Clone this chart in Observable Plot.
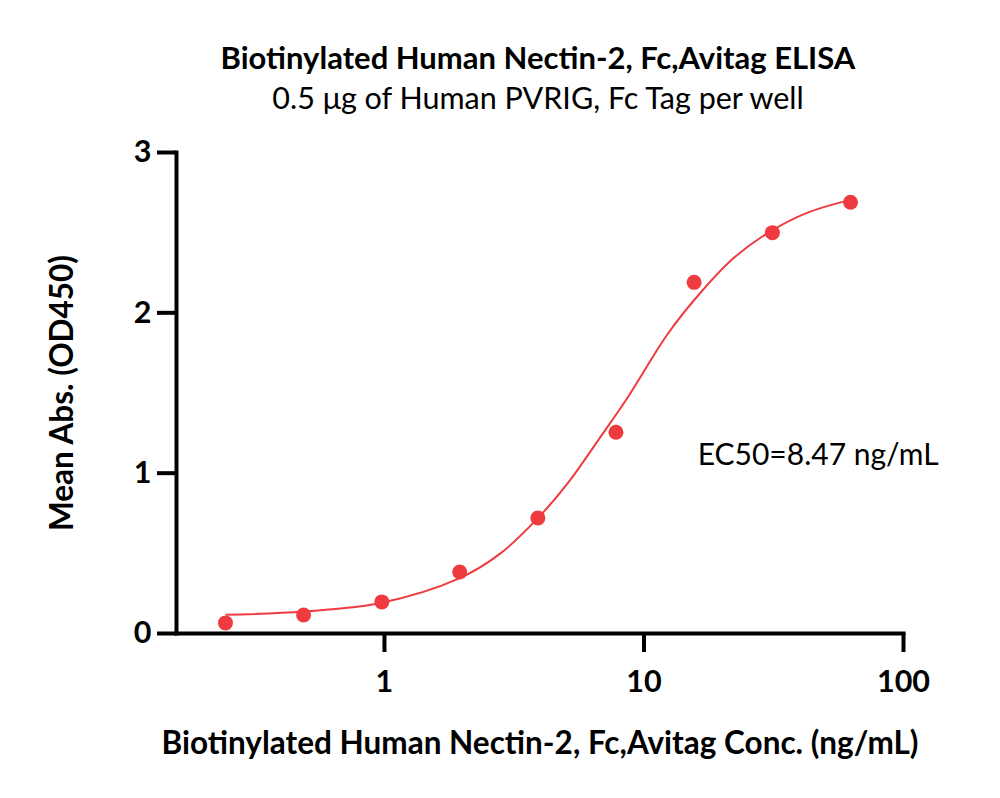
<!DOCTYPE html>
<html><head><meta charset="utf-8">
<script src="https://cdn.jsdelivr.net/npm/d3@7"></script>
<script src="https://cdn.jsdelivr.net/npm/@observablehq/plot@0.6"></script>
<style>
body{margin:0;background:#fff;font-family:Lato, sans-serif;}
#wrap{position:relative;width:1000px;height:798px;overflow:hidden;}
#title{position:absolute;left:0;width:1076px;top:39px;text-align:center;font-weight:bold;font-size:31px;line-height:36px;color:#000;}
#subtitle{position:absolute;left:0;width:1076px;top:79px;text-align:center;font-size:30.5px;line-height:36px;color:#000;}
#chart{position:absolute;left:0;top:120px;}
</style></head><body>
<div id="wrap">
<div id="title">Biotinylated Human Nectin-2, Fc,Avitag ELISA</div>
<div id="subtitle">0.5 μg of Human PVRIG, Fc Tag per well</div>
<div id="chart"></div>
</div>
<script>
// measured points (ng/mL, OD450)
const concentrations = [0.244, 0.488, 0.977, 1.95, 3.9, 7.8, 15.6, 31.25, 62.5];
const meanAbs = [0.066, 0.115, 0.197, 0.384, 0.72, 1.255, 2.19, 2.50, 2.69];
// fitted curve
const fitConc = [0.246, 0.488, 0.965, 1.93, 2.8, 3.85, 5.07, 6.79, 8.64, 12.3, 16.1, 22.1, 30.5, 42.7, 60.8];
const fitAbs  = [0.117, 0.137, 0.19, 0.342, 0.50, 0.71, 0.935, 1.225, 1.47, 1.865, 2.105, 2.34, 2.505, 2.625, 2.70];
const xTicks = [1, 10, 100];
const yTicks = [0, 1, 2, 3];
const xDomain = [0.158, 100];
const yDomain = [0, 3];
const titleX = "Biotinylated Human Nectin-2, Fc,Avitag Conc. (ng/mL)";
const titleY = "Mean Abs. (OD450)";
const ec50Label = [{conc: 16.1, abs: 1.108, text: "EC50=8.47 ng/mL"}];

const points = concentrations.map((c, i) => ({conc: c, abs: meanAbs[i]}));
const fit = fitConc.map((c, i) => ({conc: c, abs: fitAbs[i]}));
const red = "#EF3B3F";

const chart = Plot.plot({
  width: 1000, height: 678,
  marginTop: 32, marginBottom: 165, marginLeft: 176, marginRight: 97,
  style: {fontFamily: "Lato, sans-serif", color: "#000", background: "#fff", overflow: "visible"},
  x: {type: "log", domain: xDomain},
  y: {domain: yDomain},
  marks: [
    Plot.axisX(xTicks, {tickSize: 19, strokeWidth: 4, tickPadding: 18, fontSize: 30.5, fontWeight: "bold", tickFormat: d => String(d), label: null}),
    Plot.axisY(yTicks, {tickSize: 19, strokeWidth: 4, tickPadding: 6, fontSize: 30.5, fontWeight: "bold", tickFormat: d => String(d), label: null}),
    Plot.frame({anchor: "left", strokeWidth: 4, strokeLinecap: "square"}),
    Plot.frame({anchor: "bottom", strokeWidth: 4, strokeLinecap: "square"}),
    Plot.line(fit, {x: "conc", y: "abs", stroke: red, strokeWidth: 2, curve: "catmull-rom"}),
    Plot.dot(points, {x: "conc", y: "abs", r: 7.5, fill: red}),
    Plot.text(ec50Label, {x: "conc", y: "abs", text: "text", textAnchor: "start", fontSize: 30, fill: "#000"}),
    Plot.text([titleY], {frameAnchor: "left", textAnchor: "middle", lineAnchor: "middle", rotate: -90, dx: -114, fontSize: 31.5, fontWeight: "bold", fill: "#000"}),
    Plot.text([titleX], {frameAnchor: "bottom", dy: 120, fontSize: 31.5, fontWeight: "bold", fill: "#000"})
  ]
});
document.getElementById("chart").appendChild(chart);
</script>
</body></html>
